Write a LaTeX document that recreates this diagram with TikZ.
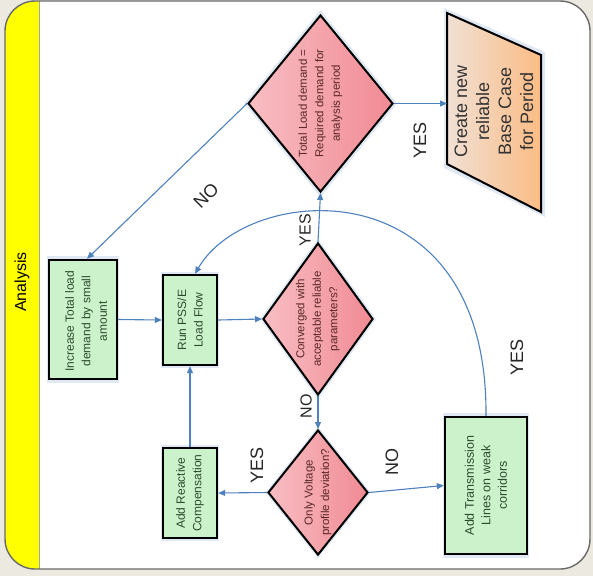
\documentclass[tikz,border=0pt]{standalone}
\usepackage{fontspec}
\setmainfont{Liberation Sans}
\usetikzlibrary{arrows.meta,shapes.geometric,shadows}

\definecolor{pagebg}{RGB}{236,234,224}
\definecolor{frameline}{RGB}{105,105,105}
\definecolor{laneyellow}{RGB}{255,255,0}
\definecolor{boxfill}{RGB}{204,242,204}
\definecolor{diaLeft}{RGB}{248,190,195}
\definecolor{diaRight}{RGB}{241,138,148}
\definecolor{outLeft}{RGB}{240,224,212}
\definecolor{outRight}{RGB}{251,188,132}
\definecolor{flowblue}{RGB}{79,129,189}
\definecolor{boxink}{RGB}{45,75,45}
\definecolor{diaink}{RGB}{90,40,40}

\tikzset{
  halo/.style={general shadow={fill=flowblue!18, shadow scale=1.06}},
  box/.style={draw=black, line width=2.4pt, fill=boxfill, inner sep=0pt, halo},
  dia/.style={diamond, draw=black, line width=2pt, left color=diaLeft, right color=diaRight, inner sep=0pt, halo},
  boxtext/.style={rotate=90, align=center, text=boxink, font=\fontsize{12}{16.5}\selectfont},
  diatext/.style={rotate=90, align=center, text=diaink, font=\fontsize{11.5}{16.5}\selectfont},
  conn/.style={draw=flowblue, line width=1.1pt, -{Triangle[length=7pt,width=6pt]}},
  lbl/.style={text=black!85, font=\fontsize{18}{20}\selectfont},
}

\begin{document}
\begin{tikzpicture}[x=1pt,y=-1pt]
\useasboundingbox (0,0) rectangle (593,576);

% page and swimlane frame
\fill[pagebg] (0,0) rectangle (593,576);
\fill[white, rounded corners=30pt] (5,1) rectangle (590,569);
\begin{scope}
  \clip[rounded corners=30pt] (5,1) rectangle (590,569);
  \fill[laneyellow] (5,1) rectangle (39,569);
  \draw[frameline!60, line width=0.6pt] (39,1) -- (39,569);
\end{scope}
\draw[frameline, line width=1.4pt, rounded corners=30pt] (5,1) rectangle (590,569);
\node[rotate=90, font=\fontsize{16}{18}\selectfont] (lane) at (22,282) {Analysis};

% process boxes
\node[box, minimum width=68pt, minimum height=119pt] (inc) at (83,319.5) {};
\node[boxtext] (inc-t) at (86,321) {Increase Total load\\demand by small\\amount};

\node[box, minimum width=54pt, minimum height=90pt] (run) at (190,320) {};
\node[boxtext] (run-t) at (run) {Run PSS/E\\Load Flow};

\node[box, minimum width=54pt, minimum height=90pt] (react) at (190,493) {};
\node[boxtext] (react-t) at (react) {Add Reactive\\Compensation};

\node[box, minimum width=82pt, minimum height=137pt] (trans) at (486,485.5) {};
\node[boxtext, font=\fontsize{12.5}{16.5}\selectfont] (trans-t) at (trans) {Add Transmission\\Lines on weak\\corridors};

% decisions
\node[dia, minimum width=145pt, minimum height=177pt] (total) at (320.5,103.5) {};
\node[diatext] (total-t) at (total) {Total Load demand =\\Required demand for\\analysis period};

\node[dia, minimum width=110pt, minimum height=152pt] (conv) at (318,319) {};
\node[diatext] (conv-t) at (conv) {Converged with\\acceptable reliable\\parameters?};

\node[dia, minimum width=100pt, minimum height=125pt] (volt) at (318,492.5) {};
\node[diatext] (volt-t) at (volt) {Only Voltage\\profile deviation?};

% output
\fill[flowblue!18] (444,8) -- (545,52) -- (545,217) -- (444,168) -- cycle;
\shade[left color=outLeft, right color=outRight, draw=black, line width=2pt]
  (447,13) -- (541,55) -- (541,212) -- (447,164) -- cycle;
\node[rotate=90, align=center, text=black!80, font=\fontsize{18}{22}\selectfont] (create) at (494,111) {Create new\\reliable\\Base Case\\for Period};
\coordinate (create-w) at (447,103.5);

% connectors
\draw[conn] (inc.east) -- (run.west);
\draw[conn] (run.east) -- (conv.west);
\draw[conn] (react.north) -- (run.south);
\draw[conn] (conv.south) -- (volt.north);
\draw[conn] (conv.north) -- (total.south);
\draw[conn] (total.west) -- ([xshift=4pt]inc.north);
\draw[conn] (total.east) -- (create-w);
\draw[conn] (volt.west) -- (react.east);
\draw[conn] (volt.east) -- (trans.west);
\draw[conn] (trans.north) .. controls (488,165) and (248,182) .. ([xshift=5pt]run.north);

% branch labels
\node[lbl, rotate=90, font=\fontsize{16}{18}\selectfont] (no-down) at (306,406) {NO};
\node[lbl, rotate=90, font=\fontsize{16}{18}\selectfont] (yes-up) at (305,230) {YES};
\node[lbl, rotate=90] (yes-out) at (420,140) {YES};
\node[lbl, rotate=90] (yes-react) at (257,465) {YES};
\node[lbl, rotate=90] (no-trans) at (392,462) {NO};
\node[lbl, rotate=90] (yes-loop) at (517,357) {YES};
\node[lbl, rotate=45] (no-inc) at (206,196) {NO};
\end{tikzpicture}
\end{document}
